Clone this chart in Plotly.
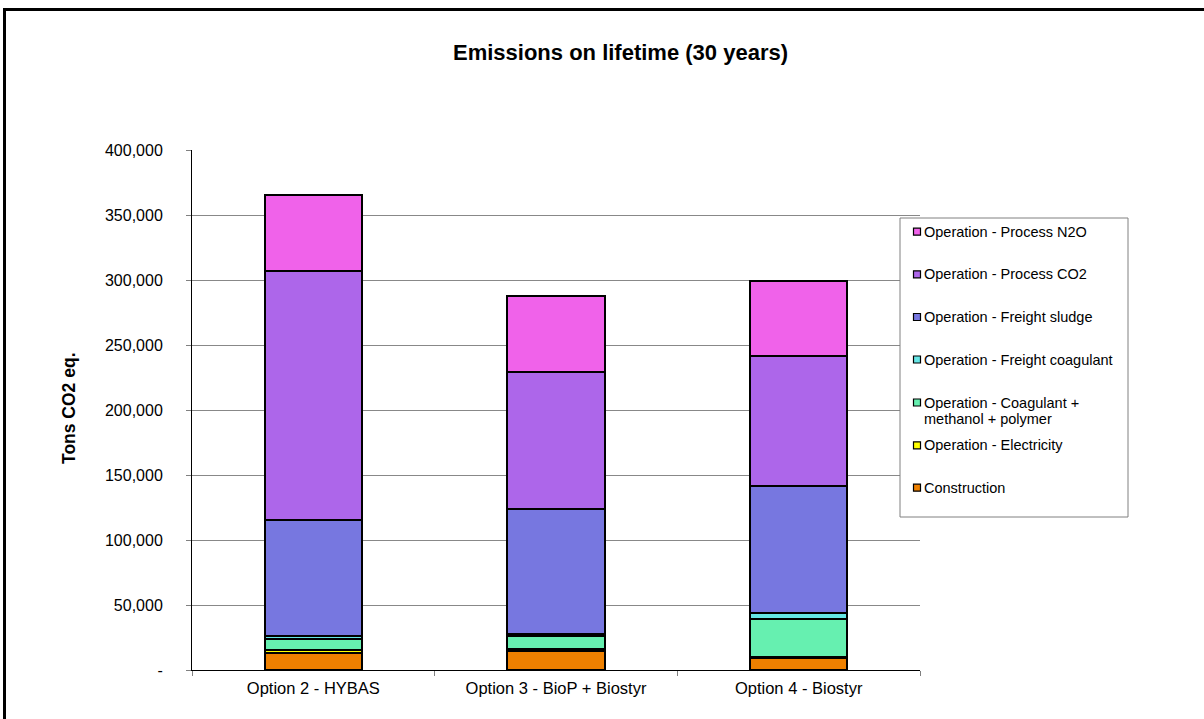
import plotly.graph_objects as go

# Lifetime emissions per option, tons CO2 eq. (stacked bottom to top)
options = ["Option 2 - HYBAS", "Option 3 - BioP + Biostyr", "Option 4 - Biostyr"]

construction = [13300, 14900, 9200]
electricity = [2100, 1500, 500]
coag_methanol_polymer = [8700, 9800, 29800]
freight_coagulant = [1800, 1200, 4100]
freight_sludge = [89500, 96400, 97900]
process_co2 = [191800, 105200, 100300]
process_n2o = [58200, 58400, 57700]

series_names = [
    "Construction",
    "Operation - Electricity",
    "Operation - Coagulant +<br>methanol + polymer",
    "Operation - Freight coagulant",
    "Operation - Freight sludge",
    "Operation - Process CO2",
    "Operation - Process N2O",
]
series_values = [construction, electricity, coag_methanol_polymer,
                 freight_coagulant, freight_sludge, process_co2, process_n2o]
series_colors = ["#EE8000", "#FFFF00", "#66F0B0", "#66E6E6",
                 "#7777E0", "#AD66EA", "#F062EA"]

y_tickvals = [0, 50000, 100000, 150000, 200000, 250000, 300000, 350000, 400000]
y_ticktext = ["-", "50,000", "100,000", "150,000", "200,000",
              "250,000", "300,000", "350,000", "400,000"]

W, H = 1204, 719
PL, PR, PT, PB = 192, 920, 150, 670  # plot area in pixels

FONT = "Liberation Sans, Arial, sans-serif"


def px_x(x):
    return (x - PL) / (PR - PL)


def px_y(y):
    return (PB - y) / (PB - PT)


fig = go.Figure()
for name, vals, col in zip(series_names, series_values, series_colors):
    fig.add_trace(go.Bar(
        x=options, y=vals, name=name, width=0.40,
        marker=dict(color=col, line=dict(color="black", width=2)),
        showlegend=False,
    ))

shapes = []
annotations = []

# Outer chart frame (runs off the right and bottom of the page)
shapes.append(dict(type="rect", xref="paper", yref="paper",
                   x0=px_x(4.5), x1=px_x(1300), y0=px_y(800), y1=px_y(9.5),
                   line=dict(color="black", width=3), layer="above"))

# Legend box
shapes.append(dict(type="rect", xref="paper", yref="paper",
                   x0=px_x(900), x1=px_x(1128), y0=px_y(517), y1=px_y(218),
                   line=dict(color="#808080", width=1), fillcolor="white",
                   layer="above"))
legend_rows = [231.7, 274.3, 317.0, 359.5, 402.5, 445.3, 487.7]
LINE_STEP = 16.8
for i, (name, col) in enumerate(zip(series_names[::-1], series_colors[::-1])):
    yc = legend_rows[i]
    shapes.append(dict(type="rect", xref="paper", yref="paper",
                       x0=px_x(913.5), x1=px_x(920.5),
                       y0=px_y(yc + 3.5), y1=px_y(yc - 3.5),
                       line=dict(color="black", width=1.2), fillcolor=col,
                       layer="above"))
    for j, line in enumerate(name.split("<br>")):
        annotations.append(dict(
            xref="paper", yref="paper", x=px_x(922), y=px_y(yc + j * LINE_STEP),
            xanchor="left", yanchor="middle", align="left", showarrow=False,
            text=line, font=dict(family=FONT, size=14.5, color="black"),
        ))

# Title
annotations.append(dict(xref="paper", yref="paper", x=px_x(620), y=px_y(52),
                        xanchor="center", yanchor="middle", showarrow=False,
                        text="<b>Emissions on lifetime (30 years)</b>",
                        font=dict(family=FONT, size=22, color="black")))
# Y axis title
annotations.append(dict(xref="paper", yref="paper", x=px_x(69), y=px_y(408),
                        xanchor="center", yanchor="middle", showarrow=False,
                        textangle=-90, text="<b>Tons CO2 eq.</b>",
                        font=dict(family=FONT, size=17.5, color="black")))

fig.update_layout(
    width=W, height=H,
    margin=dict(l=PL, r=W - PR, t=PT, b=H - PB),
    barmode="stack",
    plot_bgcolor="white", paper_bgcolor="white",
    font=dict(family=FONT, size=16, color="black"),
    shapes=shapes, annotations=annotations,
    showlegend=False,
)
fig.update_xaxes(
    showline=True, linecolor="black", linewidth=1,
    ticks="outside", tickson="boundaries", ticklen=5, tickcolor="#808080",
    ticklabelstandoff=3,
    tickfont=dict(family=FONT, size=16.5, color="black"),
    showgrid=False, range=[-0.5, 2.5],
)
fig.update_yaxes(
    range=[0, 400000], tickvals=y_tickvals, ticktext=y_ticktext,
    showline=True, linecolor="black", linewidth=1,
    ticks="outside", ticklen=5, tickcolor="#808080",
    ticklabelstandoff=20,
    tickfont=dict(family=FONT, size=16, color="black"),
    showgrid=True, gridcolor="#888888", gridwidth=1, zeroline=False,
)

fig.write_html("out.html")
